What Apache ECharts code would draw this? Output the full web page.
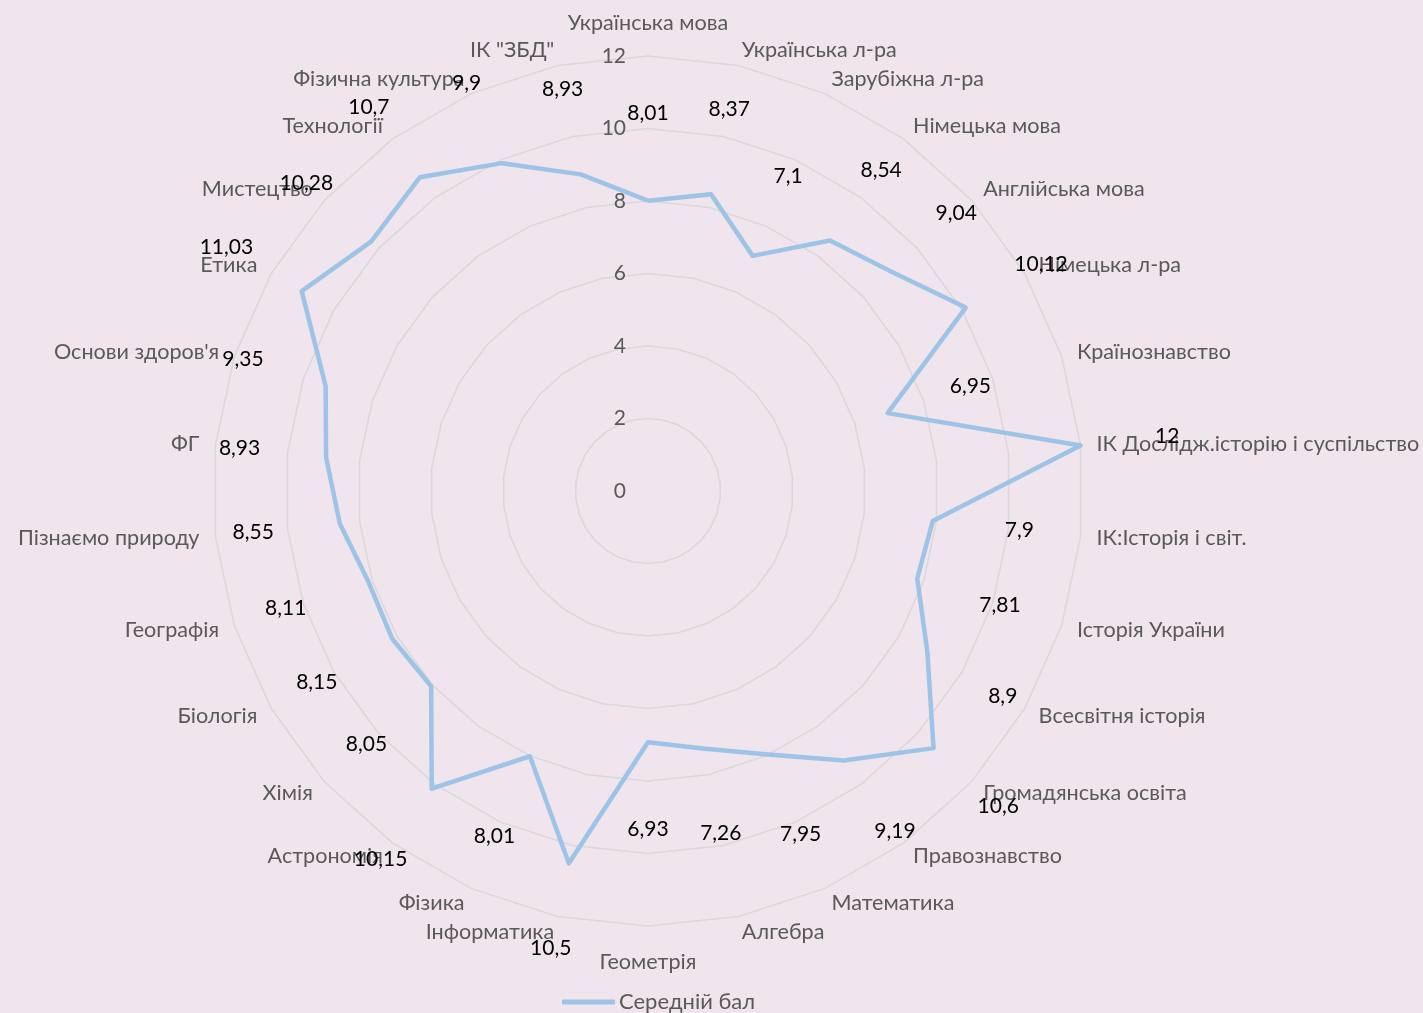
<!DOCTYPE html>
<html>
<head>
<meta charset="utf-8">
<script src="https://cdn.jsdelivr.net/npm/echarts@6/dist/echarts.min.js"></script>
<style>
  html, body { margin: 0; padding: 0; background: #f0e4ed; }
  #chart { width: 1423px; height: 1013px; }
</style>
</head>
<body>
<div id="chart"></div>
<script>
// предмети, за годинниковою стрілкою від верху
var subjects = [
  "Українська мова", "Українська л-ра", "Зарубіжна л-ра", "Німецька мова",
  "Англійська мова", "Німецька л-ра", "Країнознавство",
  "ІК Дослідж.історію і суспільство", "ІК:Історія і світ.", "Історія України",
  "Всесвітня історія", "Громадянська освіта", "Правознавство", "Математика",
  "Алгебра", "Геометрія", "Інформатика", "Фізика", "Астрономія", "Хімія",
  "Біологія", "Географія", "Пізнаємо природу", "ФГ", "Основи здоров'я",
  "Етика", "Мистецтво", "Технології", "Фізична культура", "ІК \"ЗБД\""
];
var avgScore = [
  8.01, 8.37, 7.1, 8.54, 9.04, 10.12, 6.95, 12, 7.9, 7.81,
  8.9, 10.6, 9.19, 7.95, 7.26, 6.93, 10.5, 8.01, 10.15, 8.05,
  8.15, 8.11, 8.55, 8.93, 9.35, 11.03, 10.28, 10.7, 9.9, 8.93
];
var seriesName = "Середній бал";
var scaleMax = 12;

var CX = 648, CY = 491, R = 435;
var FONT = "Lato";

// echarts radar goes counterclockwise, so flip the order (first one stays on top)
var order = [0];
for (var i = subjects.length - 1; i > 0; i--) order.push(i);

var indicators = order.map(function (k, j) {
  var ind = { name: subjects[k], min: 0, max: scaleMax };
  if (j === 0) ind.axisLabel = { show: true };
  return ind;
});
var values = order.map(function (k) { return avgScore[k]; });

var chart = echarts.init(document.getElementById("chart"));
chart.setOption({
  backgroundColor: "#f0e4ed",
  textStyle: { fontFamily: FONT },
  legend: {
    left: 557,
    top: 986,
    data: [{ name: seriesName, icon: "roundRect" }],
    itemWidth: 53,
    itemHeight: 5,
    itemGap: 4,
    textStyle: { color: "#595959", fontSize: 22, fontFamily: FONT, padding: [0, 0, 0, -1] }
  },
  radar: {
    center: [CX, CY],
    radius: R,
    startAngle: 90,
    shape: "polygon",
    splitNumber: 6,
    indicator: indicators,
    nameGap: 16,
    axisName: {
      color: "#595959",
      fontSize: 21.6,
      fontFamily: FONT,
      padding: [9, 0, 6, 0]
    },
    axisLine: { show: false },
    axisTick: { show: false },
    axisLabel: {
      show: false,
      color: "#595959",
      fontSize: 21,
      fontFamily: FONT,
      margin: 22
    },
    splitLine: { lineStyle: { color: "#d9d9d9", width: 1.5 } },
    splitArea: { show: false }
  },
  series: [{
    name: seriesName,
    type: "radar",
    symbol: "circle",
    symbolSize: 1,
    itemStyle: { color: "#9dc3e6" },
    lineStyle: { color: "#9dc3e6", width: 4.5 },
    label: {
      show: true,
      color: "#000",
      fontSize: 21,
      fontFamily: FONT,
      formatter: function (p) { return String(p.value).replace(".", ","); }
    },
    labelLayout: function (p) {
      var cx = p.rect.x + p.rect.width / 2;
      var cy = p.rect.y + p.rect.height / 2;
      var dx = cx - CX, dy = cy - CY;
      var d = Math.sqrt(dx * dx + dy * dy) || 1;
      return {
        x: cx + dx / d * 87,
        y: cy + dy / d * 87,
        align: "center",
        verticalAlign: "middle"
      };
    },
    data: [{ name: seriesName, value: values }]
  }]
});
</script>
</body>
</html>
